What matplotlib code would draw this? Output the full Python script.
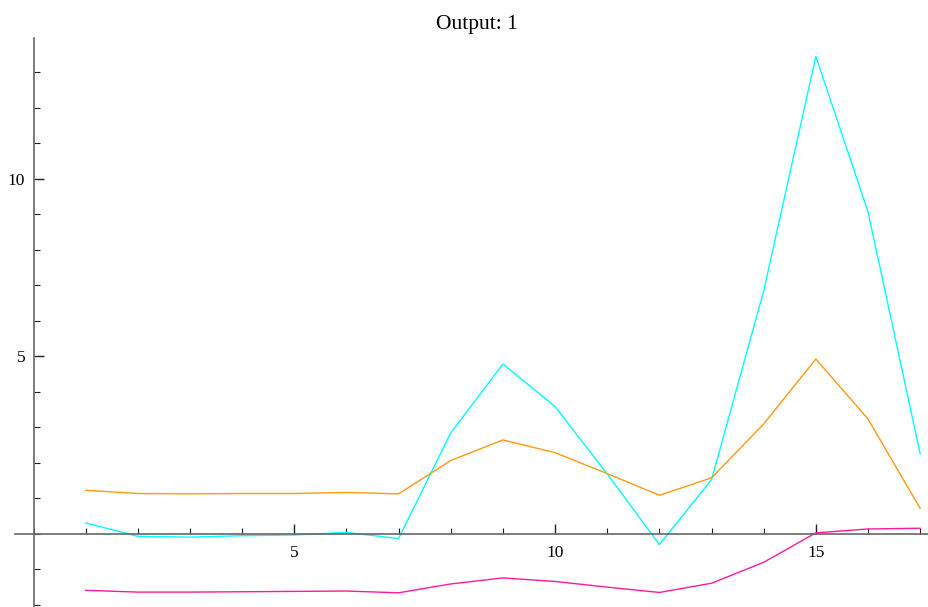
import numpy as np
import matplotlib
matplotlib.use('Agg')
import matplotlib.pyplot as plt
from matplotlib.ticker import MultipleLocator

x = list(range(1, 18))
cyan_vals = [0.30, -0.08, -0.10, -0.06, -0.04, 0.03, -0.14, 2.84, 4.78, 3.58,
             1.68, -0.31, 1.52, 6.84, 13.45, 9.07, 2.25]
orange_vals = [1.22, 1.13, 1.12, 1.13, 1.13, 1.16, 1.12, 2.06, 2.64, 2.28,
               1.69, 1.08, 1.57, 3.09, 4.92, 3.23, 0.71]
magenta_vals = [-1.60, -1.65, -1.65, -1.64, -1.63, -1.62, -1.67, -1.42, -1.25, -1.35,
                -1.51, -1.66, -1.40, -0.81, 0.02, 0.13, 0.15]

plt.rcParams['font.family'] = 'Liberation Serif'

fig = plt.figure(figsize=(9.29, 6.07), dpi=100)
ax = fig.add_axes([0, 0, 1, (607 - 38) / 607])

ax.plot(x, cyan_vals, color='#00ffff', lw=1.0)
ax.plot(x, orange_vals, color='#ff9a10', lw=1.0)
ax.plot(x, magenta_vals, color='#ff1a9c', lw=1.0)

ax.set_xlim(-0.644, 17.17)
ax.set_ylim(-2.07, 13.97)

for s in ['top', 'right']:
    ax.spines[s].set_visible(False)
ax.spines['left'].set_position(('data', 0))
ax.spines['bottom'].set_position(('data', 0))
ax.spines['bottom'].set_bounds(-0.36, 17.17)
for s in ['left', 'bottom']:
    ax.spines[s].set_color('#666666')
    ax.spines[s].set_linewidth(1.2)

ax.xaxis.set_minor_locator(MultipleLocator(1))
ax.yaxis.set_minor_locator(MultipleLocator(1))
ax.set_xticks([5, 10, 15])
ax.set_yticks([5, 10])
ax.tick_params(axis='both', which='major', direction='in', length=7, width=1.0,
               color='#222222', labelsize=12.5)
ax.tick_params(axis='x', which='major', pad=8)
ax.tick_params(axis='y', which='major', pad=6)
ax.tick_params(axis='both', which='minor', direction='in', length=4, width=0.8,
               color='#222222')
ax.patch.set_alpha(0)

fig.text(0.513, 1 - 25 / 607, 'Output: 1', ha='center', va='center', fontsize=15.5)

fig.savefig('out.png', dpi=100)
